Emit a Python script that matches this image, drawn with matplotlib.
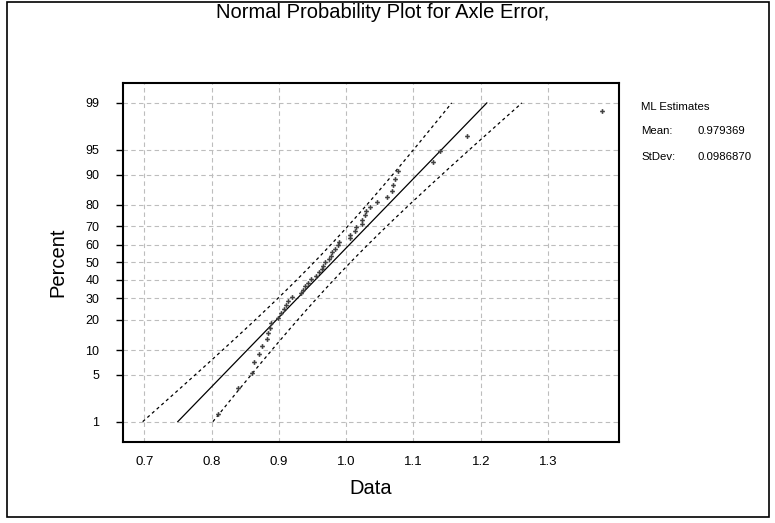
import numpy as np
import matplotlib
matplotlib.use("Agg")
import matplotlib.pyplot as plt
from statistics import NormalDist

plt.rcParams['font.family'] = ['Liberation Sans', 'DejaVu Sans']

# Axle error measurements (sorted)
axle_error = [
    0.8100, 0.8388, 0.8596, 0.8630, 0.8704, 0.8753, 0.8819, 0.8843, 0.8868, 0.8883,
    0.8982, 0.9031, 0.9076, 0.9101, 0.9140, 0.9199, 0.9324, 0.9363, 0.9388, 0.9437,
    0.9473, 0.9550, 0.9600, 0.9645, 0.9658, 0.9685, 0.9747, 0.9774, 0.9793, 0.9831,
    0.9874, 0.9900, 1.0064, 1.0064, 1.0131, 1.0141, 1.0230, 1.0235, 1.0284, 1.0290,
    1.0354, 1.0458, 1.0602, 1.0685, 1.0700, 1.0725, 1.0765, 1.1294, 1.1394, 1.1791,
    1.3806,
]
ml_mean = 0.979369
ml_stdev = 0.0986870
percent_ticks = [1, 5, 10, 20, 30, 40, 50, 60, 70, 80, 90, 95, 99]
x_ticks = [0.7, 0.8, 0.9, 1.0, 1.1, 1.2, 1.3]

nd = NormalDist()
n = len(axle_error)
data = np.sort(np.array(axle_error))
ranks = np.arange(1, n + 1)
plot_pos = (ranks - 0.3) / (n + 0.4)          # median ranks (Benard)
z_pts = np.array([nd.inv_cdf(p) for p in plot_pos])

# fitted line and 95% confidence band for the percentiles
z_line = np.linspace(nd.inv_cdf(0.01), nd.inv_cdf(0.99), 200)
x_fit = ml_mean + z_line * ml_stdev
half = nd.inv_cdf(0.975) * ml_stdev * np.sqrt((1 + z_line**2 / 2) / n)

fig = plt.figure(figsize=(7.75, 5.23), dpi=100)
ax = fig.add_axes([0.1587, 0.1549, 0.6404, 0.6864])

grid_kw = dict(color='#bdbdbd', lw=0.8, ls=(0, (4, 3)), zorder=0)
for xt in x_ticks:
    ax.axvline(xt, **grid_kw)
for pt in percent_ticks:
    ax.axhline(nd.inv_cdf(pt / 100), **grid_kw)

ax.plot(x_fit, z_line, color='black', lw=0.9, zorder=2)
ax.plot(x_fit - half, z_line, color='black', lw=0.9, ls=(0, (2.5, 2.5)), zorder=2)
ax.plot(x_fit + half, z_line, color='black', lw=0.9, ls=(0, (2.5, 2.5)), zorder=2)
ax.plot(data, z_pts, ls='none', marker='P', ms=3.4, mew=0, color='#404040', zorder=3)

ax.set_xlim(0.6684, 1.4058)
ax.set_ylim(-2.623, 2.6175)
ax.set_xticks(x_ticks)
ax.set_xticklabels([f'{v:.1f}' for v in x_ticks])
ax.set_yticks([nd.inv_cdf(p / 100) for p in percent_ticks])
ax.set_yticklabels([str(p) for p in percent_ticks])
ax.tick_params(axis='x', length=0, pad=10, labelsize=9.5)
ax.tick_params(axis='y', length=5, width=1, pad=12, labelsize=9, direction='out')
for s in ax.spines.values():
    s.set_linewidth(1.5)

ax.set_xlabel('Data', fontsize=14.5, labelpad=8)
ax.set_ylabel('Percent', fontsize=14.5, labelpad=13)
fig.text(0.494, 1 - 12.5 / 523, 'Normal Probability Plot for Axle Error,', ha='center', va='center', fontsize=14.5)

fs = 8.2
fig.text(641 / 775, 1 - 107 / 523, 'ML Estimates', fontsize=fs, va='center')
fig.text(641 / 775, 1 - 131.5 / 523, 'Mean:', fontsize=fs, va='center')
fig.text(698 / 775, 1 - 131.5 / 523, f'{ml_mean:.6f}', fontsize=fs, va='center')
fig.text(641 / 775, 1 - 156.5 / 523, 'StDev:', fontsize=fs, va='center')
fig.text(698 / 775, 1 - 156.5 / 523, f'{ml_stdev:.7f}', fontsize=fs, va='center')

# outer frame
fig.patches.append(plt.Rectangle((7 / 775, 6 / 523), 762 / 775, 515 / 523, transform=fig.transFigure,
                                 fill=False, edgecolor='black', lw=1.2))

fig.savefig('out.png', dpi=100)
